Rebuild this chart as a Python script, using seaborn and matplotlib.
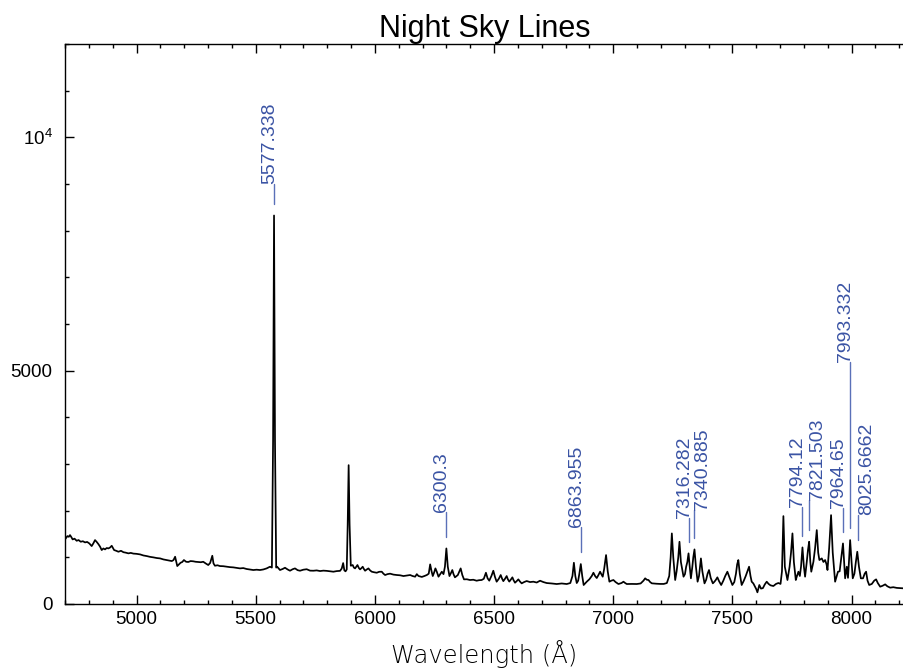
import matplotlib
matplotlib.use("Agg")
import matplotlib.pyplot as plt
import numpy as np
import pandas as pd
import seaborn as sns
from matplotlib.ticker import MultipleLocator, FixedLocator, FixedFormatter

# ---------------- data ----------------
wavelength = [
    4700, 4705, 4710, 4716, 4721, 4727, 4732, 4740, 4749, 4757, 4766, 4775, 4784, 4793, 4802,
    4812, 4819, 4826, 4833, 4840, 4847, 4854, 4861, 4868, 4875, 4882, 4889, 4896, 4901, 4906,
    4915, 4924, 4935, 4945, 4955, 4966, 4976, 4987, 5000, 5015, 5029, 5043, 5057, 5071, 5085,
    5099, 5113, 5127, 5138, 5148, 5155, 5162, 5167, 5171, 5178, 5185, 5192, 5199, 5208, 5217,
    5227, 5238, 5248, 5259, 5270, 5280, 5290, 5301, 5309, 5318, 5323, 5329, 5340, 5350, 5364,
    5378, 5392, 5406, 5420, 5434, 5448, 5462, 5476, 5490, 5504, 5518, 5532, 5546, 5560, 5568,
    5573, 5577, 5581, 5586, 5590, 5602, 5613, 5623, 5634, 5644, 5655, 5665, 5676, 5686, 5700,
    5714, 5728, 5742, 5756, 5770, 5784, 5798, 5812, 5826, 5840, 5854, 5861, 5867, 5872, 5877,
    5882, 5886, 5890, 5894, 5899, 5907, 5912, 5917, 5922, 5927, 5933, 5938, 5944, 5949, 5954,
    5959, 5966, 5973, 5980, 5987, 5997, 6008, 6018, 6029, 6036, 6043, 6053, 6064, 6078, 6092,
    6106, 6120, 6134, 6148, 6158, 6169, 6176, 6183, 6197, 6208, 6218, 6226, 6232, 6238, 6243,
    6249, 6254, 6260, 6267, 6274, 6281, 6288, 6294, 6300, 6306, 6313, 6319, 6325, 6330, 6336,
    6348, 6360, 6367, 6374, 6386, 6399, 6413, 6427, 6437, 6448, 6457, 6466, 6473, 6480, 6489,
    6497, 6504, 6511, 6520, 6528, 6534, 6539, 6546, 6553, 6558, 6564, 6570, 6577, 6582, 6588,
    6595, 6602, 6609, 6616, 6626, 6637, 6651, 6665, 6679, 6693, 6707, 6721, 6742, 6763, 6784,
    6805, 6820, 6829, 6835, 6841, 6847, 6853, 6858, 6864, 6870, 6876, 6882, 6889, 6900, 6910,
    6917, 6924, 6931, 6938, 6945, 6950, 6956, 6962, 6970, 6977, 6984, 6992, 7001, 7010, 7022,
    7035, 7043, 7050, 7057, 7078, 7099, 7115, 7127, 7134, 7141, 7148, 7155, 7162, 7180, 7197,
    7212, 7225, 7235, 7241, 7246, 7252, 7260, 7266, 7273, 7278, 7284, 7295, 7301, 7306, 7311,
    7316, 7321, 7326, 7332, 7336, 7341, 7347, 7354, 7360, 7364, 7368, 7374, 7383, 7390, 7396,
    7402, 7409, 7418, 7425, 7431, 7437, 7444, 7453, 7462, 7470, 7479, 7487, 7500, 7508, 7515,
    7520, 7525, 7531, 7539, 7548, 7556, 7563, 7570, 7576, 7581, 7588, 7595, 7600, 7605, 7609,
    7613, 7620, 7628, 7636, 7644, 7652, 7660, 7672, 7683, 7693, 7702, 7708, 7714, 7720, 7731,
    7740, 7746, 7752, 7758, 7766, 7771, 7777, 7783, 7788, 7794, 7800, 7805, 7812, 7817, 7822,
    7827, 7831, 7840, 7847, 7854, 7860, 7865, 7870, 7875, 7882, 7889, 7895, 7899, 7906, 7914,
    7921, 7931, 7943, 7950, 7957, 7964, 7969, 7973, 7980, 7985, 7989, 7994, 8000, 8005, 8012,
    8018, 8024, 8031, 8039, 8048, 8055, 8061, 8067, 8074, 8085, 8095, 8103, 8110, 8120, 8130,
    8141, 8150, 8162, 8175, 8190, 8205, 8220,
]
flux = [
    1384, 1420, 1455, 1440, 1477, 1430, 1384, 1400, 1355, 1370, 1334, 1345, 1320, 1330, 1298,
    1241, 1300, 1370, 1330, 1284, 1230, 1156, 1190, 1170, 1200, 1191, 1210, 1248, 1200, 1156,
    1140, 1120, 1140, 1110, 1100, 1085, 1095, 1080, 1075, 1063, 1040, 1027, 1010, 999, 985,
    977, 955, 942, 930, 920, 940, 1013, 900, 813, 850, 884, 900, 942, 905, 900,
    920, 915, 905, 900, 895, 905, 870, 835, 880, 1034, 870, 820, 830, 813, 810,
    799, 790, 785, 775, 763, 770, 750, 740, 728, 735, 728, 740, 763, 799, 780,
    3500, 8325, 3500, 780, 799, 728, 750, 777, 740, 713, 745, 763, 725, 713, 735,
    745, 715, 713, 720, 706, 715, 710, 700, 692, 705, 710, 760, 877, 720, 700,
    740, 1700, 2975, 1700, 820, 835, 780, 763, 800, 835, 770, 742, 770, 799, 750,
    713, 740, 763, 720, 692, 680, 670, 690, 692, 650, 621, 640, 650, 630, 621,
    615, 599, 610, 621, 600, 585, 640, 600, 580, 600, 621, 650, 849, 700, 599,
    680, 763, 690, 585, 640, 692, 640, 800, 1191, 800, 599, 660, 728, 640, 571,
    620, 763, 620, 528, 530, 514, 520, 499, 510, 514, 540, 670, 550, 500, 600,
    713, 580, 478, 540, 621, 540, 490, 540, 599, 530, 480, 520, 571, 510, 456,
    490, 528, 480, 442, 470, 492, 470, 478, 460, 499, 470, 449, 440, 428, 440,
    428, 449, 600, 884, 600, 449, 500, 650, 856, 600, 407, 440, 478, 530, 600,
    670, 600, 556, 620, 692, 640, 585, 750, 1049, 700, 478, 500, 514, 470, 428,
    450, 478, 450, 428, 430, 428, 440, 500, 550, 520, 514, 470, 443, 435, 430,
    430, 449, 600, 1000, 1513, 1000, 514, 700, 1000, 1334, 900, 585, 640, 799, 900,
    1085, 800, 550, 800, 1000, 1170, 800, 478, 600, 800, 977, 700, 442, 520, 650,
    728, 560, 442, 480, 520, 571, 490, 407, 500, 600, 692, 580, 407, 470, 650,
    850, 942, 650, 407, 500, 600, 700, 799, 600, 478, 440, 371, 320, 250, 330,
    407, 330, 340, 420, 478, 430, 400, 385, 430, 450, 430, 700, 1883, 800, 514,
    800, 1100, 1513, 900, 514, 600, 692, 600, 800, 1213, 800, 585, 900, 1150, 1334,
    900, 692, 906, 1200, 1584, 1100, 942, 960, 977, 900, 942, 850, 728, 1200, 1905,
    1100, 478, 692, 700, 1000, 1298, 900, 550, 799, 560, 900, 1370, 900, 550, 650,
    900, 1120, 800, 550, 550, 650, 692, 500, 407, 430, 500, 528, 450, 371, 390,
    421, 380, 350, 360, 345, 340, 335,
]

line_labels = ["5577.338", "6300.3", "6863.955", "7316.282", "7340.885",
               "7794.12", "7821.503", "7964.65", "7993.332", "8025.6662"]
line_wavelengths = [float(s) for s in line_labels]

x_major_ticks = [5000, 5500, 6000, 6500, 7000, 7500, 8000]
y_major_ticks = [0, 5000, 10000]
y_tick_labels = ["0", "5000", r"$\mathregular{10^4}$"]

# ---------------- layout / style ----------------
label_text_y = [9010, 1969, 1648, 1840, 2011, 2076, 2226, 2054, 5180, 1905]
# which side of its marker line each label text sits on
label_side = ["left", "left", "left", "left", "right",
              "left", "right", "left", "left", "right"]
label_gap = 250
label_color = "#3a53a4"
marker_color = "#5a70b8"

sns.set_theme(style="ticks")
plt.rcParams["font.family"] = ["Liberation Sans", "DejaVu Sans"]
plt.rcParams["axes.edgecolor"] = "black"
plt.rcParams["text.color"] = "black"
plt.rcParams["xtick.color"] = "black"
plt.rcParams["ytick.color"] = "black"
plt.rcParams["axes.labelcolor"] = "black"

W, H = 904, 671
fig = plt.figure(figsize=(W / 100, H / 100), dpi=100)
ax = fig.add_axes([65 / W, 67 / H, 839 / W, 560 / H])

df = pd.DataFrame({"Wavelength": wavelength, "Flux": flux})
sns.lineplot(data=df, x="Wavelength", y="Flux", ax=ax, color="black",
             linewidth=1.25, sort=False, estimator=None)

ax.set_xlim(4700, 8220)
ax.set_ylim(0, 12000)

ax.xaxis.set_major_locator(FixedLocator(x_major_ticks))
ax.xaxis.set_minor_locator(MultipleLocator(100))
ax.yaxis.set_major_locator(FixedLocator(y_major_ticks))
ax.yaxis.set_major_formatter(FixedFormatter(y_tick_labels))
ax.yaxis.set_minor_locator(MultipleLocator(1000))

ax.tick_params(axis="both", which="both", direction="in", top=True, right=False,
               width=1.0, labelsize=13.5)
ax.tick_params(axis="both", which="major", length=6.5)
ax.tick_params(axis="both", which="minor", length=3)
ax.tick_params(axis="x", which="major", pad=5)
ax.tick_params(axis="y", which="major", pad=9)

for side in ["left", "bottom", "top"]:
    ax.spines[side].set_linewidth(1.0)
    ax.spines[side].set_color("black")
ax.spines["right"].set_visible(False)

ax.set_title("Night Sky Lines", fontsize=22, pad=5)
ax.set_xlabel("Wavelength (Å)", fontsize=17.5, family=["DejaVu Sans"],
              fontweight="light", labelpad=9)
ax.set_ylabel("")

wl_arr = np.array(wavelength, dtype=float)
fl_arr = np.array(flux, dtype=float)
for lab, lw_, ty, sd in zip(line_labels, line_wavelengths, label_text_y, label_side):
    near = np.abs(wl_arr - lw_) <= 6
    peak = fl_arr[near].max()
    ax.plot([lw_, lw_], [peak + label_gap, ty], color=marker_color, lw=1.0)
    va = "baseline" if sd == "left" else "top"
    ax.text(lw_, ty, lab, rotation=90, rotation_mode="anchor", ha="left",
            va=va, color=label_color, fontsize=14)

fig.savefig("out.png", dpi=100)
